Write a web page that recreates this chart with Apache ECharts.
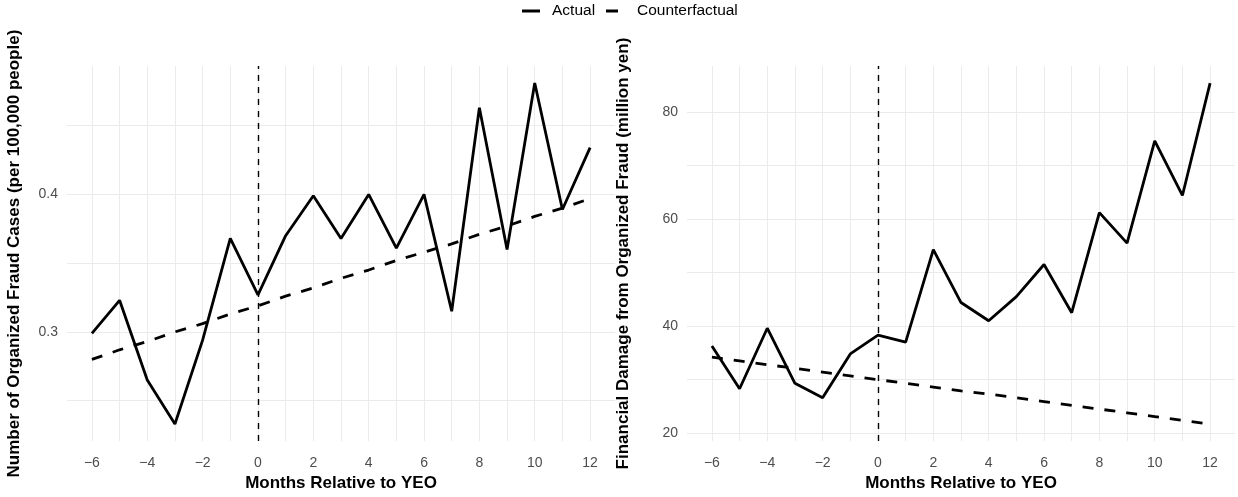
<!DOCTYPE html>
<html>
<head>
<meta charset="utf-8">
<script src="https://cdn.jsdelivr.net/npm/echarts@6/dist/echarts.min.js"></script>
<style>
  html, body { margin: 0; padding: 0; background: #ffffff; }
  #chart { width: 1238px; height: 497px; }
</style>
</head>
<body>
<div id="chart"></div>
<script>
// Months relative to the YEO event
const months = [-6, -5, -4, -3, -2, -1, 0, 1, 2, 3, 4, 5, 6, 7, 8, 9, 10, 11, 12];

// Organized fraud cases per 100,000 people
const casesActual = [0.299, 0.323, 0.265, 0.233, 0.294, 0.368, 0.327, 0.370, 0.399, 0.368, 0.400, 0.361, 0.400, 0.315, 0.463, 0.360, 0.481, 0.389, 0.434];
const casesCounterfactual = [0.280, 0.287, 0.293, 0.300, 0.306, 0.313, 0.319, 0.326, 0.332, 0.339, 0.345, 0.352, 0.358, 0.364, 0.371, 0.377, 0.384, 0.390, 0.397];

// Financial damage from organized fraud (million yen)
const damageActual = [36.3, 28.3, 39.6, 29.3, 26.6, 34.8, 38.3, 37.0, 54.3, 44.4, 41.0, 45.5, 51.5, 42.5, 61.2, 55.5, 74.6, 64.4, 85.4];
const damageCounterfactual = [34.2, 33.5, 32.8, 32.1, 31.4, 30.7, 30.0, 29.3, 28.6, 27.9, 27.3, 26.6, 25.9, 25.2, 24.5, 23.8, 23.1, 22.4, 21.7];

// Tick values
const monthGrid = [-6, -5, -4, -3, -2, -1, 0, 1, 2, 3, 4, 5, 6, 7, 8, 9, 10, 11, 12];
const monthLabels = [-6, -4, -2, 0, 2, 4, 6, 8, 10, 12];
const casesGrid = [0.25, 0.3, 0.35, 0.4, 0.45];
const casesLabels = [0.3, 0.4];
const damageGrid = [20, 30, 40, 50, 60, 70, 80];
const damageLabels = [20, 40, 60, 80];

const FONT = '"Liberation Sans", Arial, Helvetica, sans-serif';
const GRID_COLOR = '#EBEBEB';
const TEXT_GREY = '#4D4D4D';

function paddedRange(arrays, frac) {
  let lo = Infinity, hi = -Infinity;
  arrays.forEach(a => a.forEach(v => { lo = Math.min(lo, v); hi = Math.max(hi, v); }));
  const pad = (hi - lo) * frac;
  return [lo - pad, hi + pad];
}

const xRange = paddedRange([months], 0.05);
const casesRange = paddedRange([casesActual, casesCounterfactual], 0.05);
const damageRange = paddedRange([damageActual, damageCounterfactual], 0.05);

const minus = s => String(s).replace('-', '\u2212');

function xAxis(gridIndex) {
  return {
    type: 'value', gridIndex,
    min: xRange[0], max: xRange[1],
    name: 'Months Relative to YEO',
    nameLocation: 'middle', nameGap: 32,
    nameTextStyle: { fontFamily: FONT, fontSize: 17, fontWeight: 'bold', color: '#000' },
    axisLine: { show: false },
    axisTick: { show: false, customValues: monthGrid },
    axisLabel: {
      customValues: monthLabels, margin: 15,
      fontFamily: FONT, fontSize: 14, color: TEXT_GREY,
      formatter: v => minus(v)
    },
    splitLine: { show: true, lineStyle: { color: GRID_COLOR, width: 1 } }
  };
}

function yAxis(gridIndex, range, gridVals, labelVals, name, fmt, gap) {
  return {
    type: 'value', gridIndex,
    min: range[0], max: range[1],
    name,
    nameLocation: 'middle', nameGap: gap,
    nameTextStyle: { fontFamily: FONT, fontSize: 17, fontWeight: 'bold', color: '#000' },
    axisLine: { show: false },
    axisTick: { show: false, customValues: gridVals },
    axisLabel: {
      customValues: labelVals, margin: 9,
      fontFamily: FONT, fontSize: 14, color: TEXT_GREY,
      formatter: fmt
    },
    splitLine: { show: true, lineStyle: { color: GRID_COLOR, width: 1 } }
  };
}

const zeroLine = {
  silent: true, symbol: 'none',
  label: { show: false },
  lineStyle: { color: '#000', type: [6, 6], width: 1.4 },
  data: [{ xAxis: 0 }]
};

function actualSeries(idx, values, withMark) {
  const s = {
    name: 'Actual', type: 'line',
    xAxisIndex: idx, yAxisIndex: idx,
    data: months.map((m, i) => [m, values[i]]),
    showSymbol: false, symbol: 'none',
    lineStyle: { color: '#000', width: 2.8, type: 'solid' },
    itemStyle: { color: '#000' },
    z: 3
  };
  if (withMark) s.markLine = zeroLine;
  return s;
}

function counterSeries(idx, values) {
  return {
    name: 'Counterfactual', type: 'line',
    xAxisIndex: idx, yAxisIndex: idx,
    data: months.map((m, i) => [m, values[i]]),
    showSymbol: false, symbol: 'none',
    lineStyle: { color: '#000', width: 2.8, type: [11, 11] },
    itemStyle: { color: '#000' },
    z: 2
  };
}

function legendBox(name, left, keyWidth, textPad) {
  return {
    top: 3, left, padding: 0,
    icon: 'rect',
    itemWidth: keyWidth, itemHeight: 3,
    itemStyle: { color: '#000' },
    textStyle: { fontFamily: FONT, fontSize: 15.5, color: '#000', padding: [0, 0, 0, textPad] },
    selectedMode: false,
    data: [name]
  };
}

const chart = echarts.init(document.getElementById('chart'), null, { renderer: 'canvas' });

chart.setOption({
  backgroundColor: '#ffffff',
  animation: false,
  legend: [
    legendBox('Actual', 522, 18, 7),
    legendBox('Counterfactual', 606, 12, 14)
  ],
  grid: [
    { left: 67, top: 66, width: 548, height: 379 },
    { left: 687, top: 66, width: 548, height: 379 }
  ],
  xAxis: [xAxis(0), xAxis(1)],
  yAxis: [
    yAxis(0, casesRange, casesGrid, casesLabels,
      'Number of Organized Fraud Cases (per 100,000 people)', v => v.toFixed(1), 44),
    yAxis(1, damageRange, damageGrid, damageLabels,
      'Financial Damage from Organized Fraud (million yen)', v => String(Math.round(v)), 55)
  ],
  series: [
    actualSeries(0, casesActual, true),
    counterSeries(0, casesCounterfactual),
    actualSeries(1, damageActual, true),
    counterSeries(1, damageCounterfactual)
  ]
});
</script>
</body>
</html>
